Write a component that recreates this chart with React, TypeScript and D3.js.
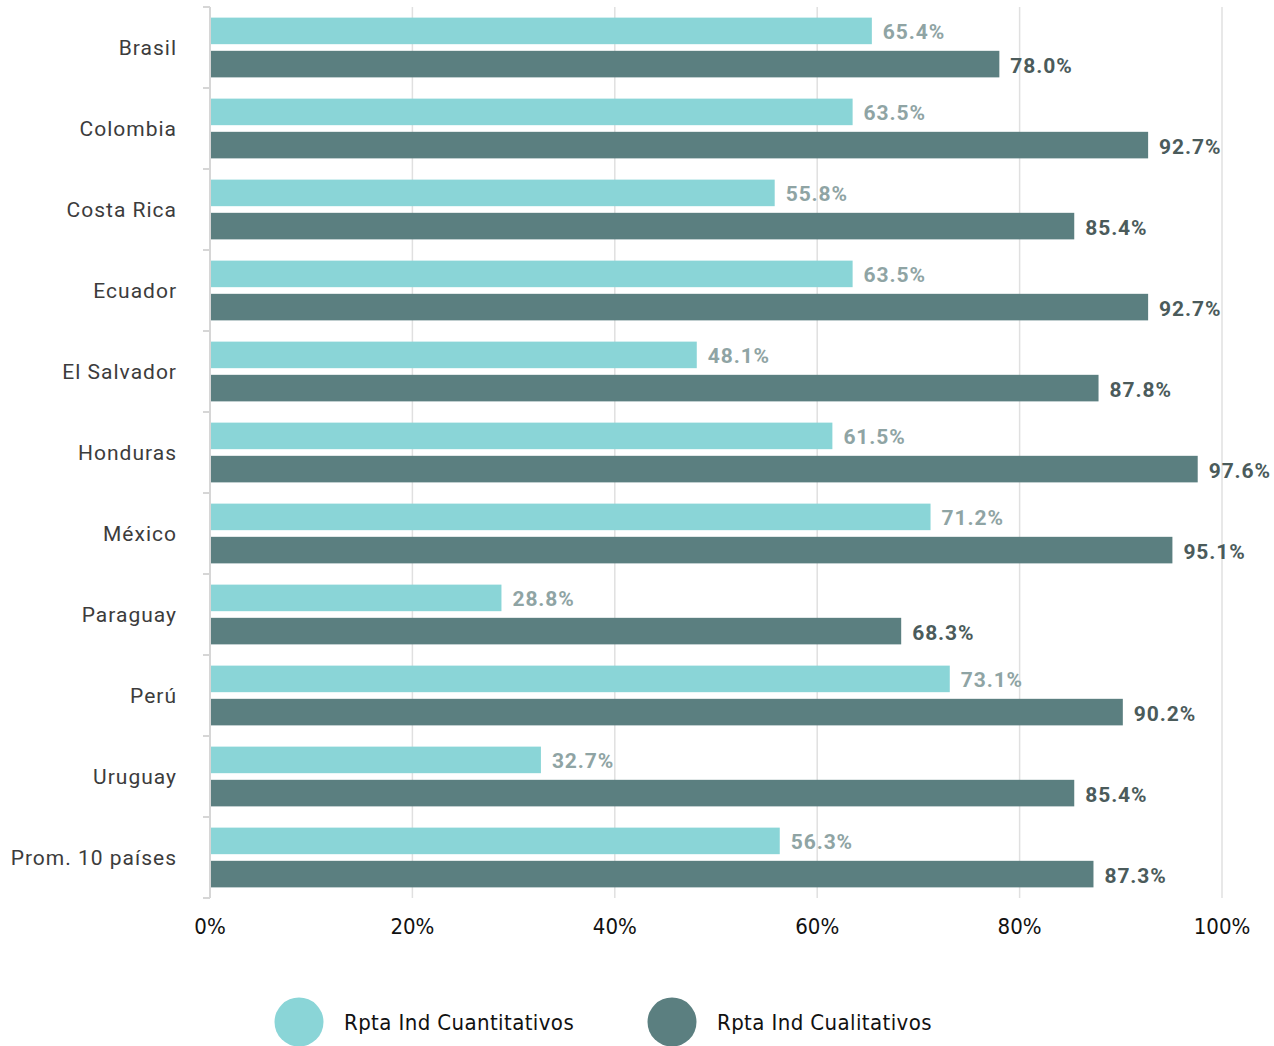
import * as d3 from 'd3';

const categories = ['Brasil', 'Colombia', 'Costa Rica', 'Ecuador', 'El Salvador', 'Honduras', 'México', 'Paraguay', 'Perú', 'Uruguay', 'Prom. 10 países'];
const cuantitativos = [65.4, 63.5, 55.8, 63.5, 48.1, 61.5, 71.2, 28.8, 73.1, 32.7, 56.3];
const cualitativos = [78.0, 92.7, 85.4, 92.7, 87.8, 97.6, 95.1, 68.3, 90.2, 85.4, 87.3];
const xTicks = [0, 20, 40, 60, 80, 100];
const seriesNames = ['Rpta Ind Cuantitativos', 'Rpta Ind Cualitativos'];

const W = 1274;
const H = 1046;
const colors = ['#8AD5D7', '#5B7F80'];
const labelColors = ['#8FA4A4', '#4B5B5B'];
const narrow = "'Liberation Sans Narrow', 'DejaVu Sans Condensed', sans-serif";

export default function App() {
  const x = d3.scaleLinear().domain([0, 100]).range([210, 1222]);
  const y = d3.scaleBand<string>().domain(categories).range([7, 898]);
  const sub = d3.scaleBand<string>().domain(['0', '1']).range([0, y.bandwidth()]).paddingInner(0.2).paddingOuter(0.32);
  const series = [cuantitativos, cualitativos];
  const bounds = [...categories.map(c => y(c)!), y.range()[1]];
  const [y0, y1] = y.range();

  return (
    <svg width={W} height={H} style={{ position: 'absolute', left: 0, top: 0 }} fontFamily="Roboto, 'DejaVu Sans', sans-serif">
      {/* grid */}
      {xTicks.slice(1).map(t => (
        <line key={t} x1={x(t)} x2={x(t)} y1={y0} y2={y1} stroke="#e0e0e0" strokeWidth={1.5} />
      ))}
      {/* bars */}
      {categories.map((c, i) => (
        <g key={c} transform={`translate(0,${y(c)})`}>
          {series.map((s, j) => (
            <g key={j}>
              <rect x={x(0)} y={sub(String(j))} width={x(s[i]) - x(0)} height={sub.bandwidth()} fill={colors[j]} />
              <text x={x(s[i]) + 11} y={sub(String(j))! + sub.bandwidth() / 2 + 1} dy="0.36em" fontSize={21} fontWeight="bold" letterSpacing={0.9} fill={labelColors[j]}>
                {s[i].toFixed(1)}%
              </text>
            </g>
          ))}
          <text x={177} y={y.bandwidth() / 2} dy="0.36em" textAnchor="end" fontSize={21} letterSpacing={1} fill="#3c3c3c">{c}</text>
        </g>
      ))}
      {/* y axis */}
      <line x1={x(0)} x2={x(0)} y1={y0} y2={y1} stroke="#d6d6d6" strokeWidth={2} />
      {bounds.map((b, i) => (
        <line key={i} x1={x(0) - 7} x2={x(0)} y1={b} y2={b} stroke="#d6d6d6" strokeWidth={2} />
      ))}
      {/* x tick labels */}
      {xTicks.map(t => (
        <text key={t} x={x(t)} y={934} textAnchor="middle" fontSize={22} fill="#111" fontFamily={narrow}>{t}%</text>
      ))}
      {/* legend */}
      {seriesNames.map((n, j) => (
        <g key={n} transform={`translate(${[299, 672][j]},1022)`}>
          <circle r={24.5} fill={colors[j]} />
          <text x={45} y={0} dy="0.36em" fontSize={22} letterSpacing={0.4} fill="#111" fontFamily={narrow}>{n}</text>
        </g>
      ))}
    </svg>
  );
}
